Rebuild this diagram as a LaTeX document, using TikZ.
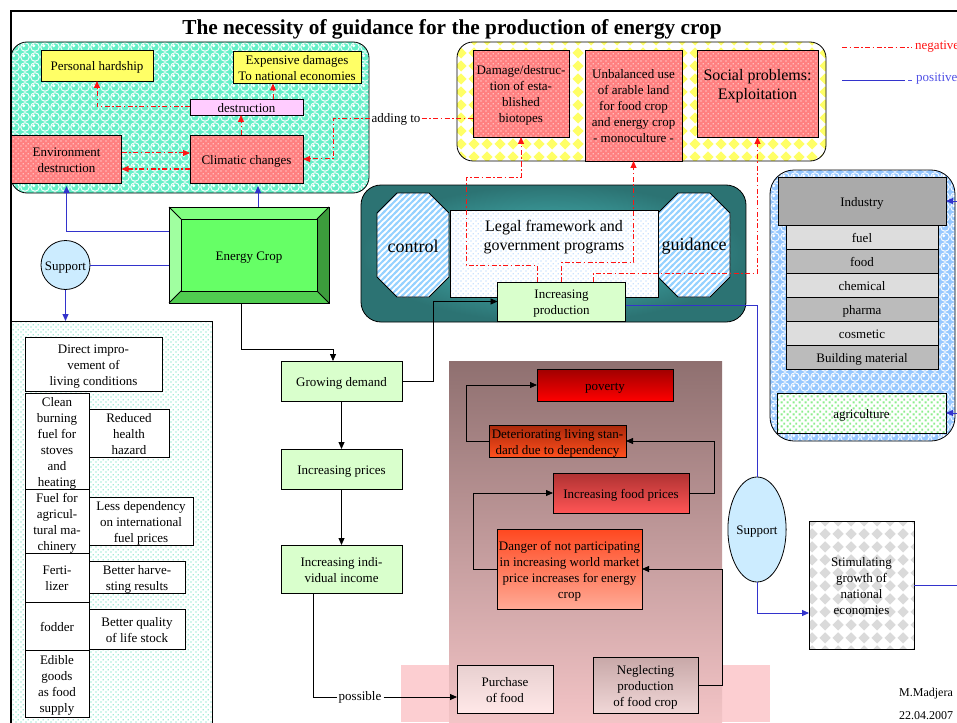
\documentclass[tikz,border=0pt]{standalone}
\usepackage{fontspec}
\setmainfont{Liberation Serif}
\usetikzlibrary{arrows.meta,patterns,shapes.geometric}
\newcommand\lw[1]{\raisebox{-2pt}[\height][\depth]{\begin{tabular}{@{}c@{}}#1\end{tabular}}}
\definecolor{negred}{RGB}{255,20,20}
\definecolor{posblue}{RGB}{51,51,204}
\definecolor{posblue2}{RGB}{80,80,230}
\definecolor{aqua}{RGB}{100,240,200}
\definecolor{aquadot}{RGB}{70,220,175}
\definecolor{yel}{RGB}{255,255,102}
\definecolor{lav}{RGB}{255,204,255}
\definecolor{salmon}{RGB}{255,128,128}
\definecolor{ltgreen}{RGB}{217,255,204}
\definecolor{ltblue}{RGB}{204,236,255}
\definecolor{dotblue}{RGB}{150,200,255}
\definecolor{stripeblue}{RGB}{150,210,255}
\definecolor{rblue}{RGB}{150,200,255}
\definecolor{tealin}{RGB}{75,195,195}
\definecolor{tealout}{RGB}{44,115,115}
\definecolor{brtop}{RGB}{143,112,112}
\definecolor{brbot}{RGB}{243,196,198}
\definecolor{pinkstrip}{RGB}{252,206,209}
\definecolor{gray1}{RGB}{170,170,170}
\definecolor{glight}{RGB}{221,221,221}
\definecolor{gdark}{RGB}{187,187,187}
\definecolor{agrgreen}{RGB}{140,238,140}
\definecolor{diagray}{RGB}{218,218,218}
\newcommand\fsn{\fontsize{13}{16}\selectfont}
\newcommand\fssm{\fontsize{12}{14}\selectfont}
\newcommand\fsbig{\fontsize{16}{19.5}\selectfont}
\newcommand\fsctl{\fontsize{18}{21}\selectfont}
\newcommand\fstitle{\fontsize{21.3}{25}\selectfont\bfseries}
\pgfdeclarepatternformonly{mydots}{\pgfpointorigin}{\pgfpoint{5pt}{5pt}}{\pgfpoint{5pt}{5pt}}{%
  \pgfpathcircle{\pgfpoint{1.25pt}{1.25pt}}{0.75pt}%
  \pgfpathcircle{\pgfpoint{3.75pt}{3.75pt}}{0.75pt}%
  \pgfusepath{fill}}
\pgfdeclarepatternformonly{mybubbles}{\pgfpoint{-1pt}{-1pt}}{\pgfpoint{11pt}{11pt}}{\pgfpoint{10pt}{10pt}}{%
  \pgfsetlinewidth{0.9pt}%
  \pgfpathcircle{\pgfpoint{5pt}{5pt}}{4.3pt}\pgfusepath{stroke}%
  \pgfpathcircle{\pgfpoint{3.8pt}{6.2pt}}{1.6pt}\pgfusepath{fill}}
\pgfdeclarepatternformonly{mydiamonds}{\pgfpointorigin}{\pgfpoint{13pt}{13pt}}{\pgfpoint{13pt}{13pt}}{%
  \pgfpathmoveto{\pgfpoint{6.5pt}{0.5pt}}\pgfpathlineto{\pgfpoint{12.5pt}{6.5pt}}%
  \pgfpathlineto{\pgfpoint{6.5pt}{12.5pt}}\pgfpathlineto{\pgfpoint{0.5pt}{6.5pt}}\pgfpathclose
  \pgfusepath{fill}}
\pgfdeclarepatternformonly{mysquares}{\pgfpointorigin}{\pgfpoint{6pt}{6pt}}{\pgfpoint{6pt}{6pt}}{%
  \pgfpathrectangle{\pgfpoint{0.8pt}{0.8pt}}{\pgfpoint{2.2pt}{2.2pt}}%
  \pgfpathrectangle{\pgfpoint{3.8pt}{3.8pt}}{\pgfpoint{2.2pt}{2.2pt}}%
  \pgfusepath{fill}}
\pgfdeclarepatternformonly{mystripes}{\pgfpoint{-1pt}{-1pt}}{\pgfpoint{7pt}{7pt}}{\pgfpoint{6pt}{6pt}}{%
  \pgfsetlinewidth{2pt}\pgfsetrectcap
  \pgfpathmoveto{\pgfpoint{0pt}{0pt}}\pgfpathlineto{\pgfpoint{6pt}{6pt}}%
  \pgfpathmoveto{\pgfpoint{-1pt}{5pt}}\pgfpathlineto{\pgfpoint{1pt}{7pt}}%
  \pgfpathmoveto{\pgfpoint{5pt}{-1pt}}\pgfpathlineto{\pgfpoint{7pt}{1pt}}%
  \pgfusepath{stroke}}
\begin{document}
\begin{tikzpicture}[x=1pt,y=-1pt,
  box/.style={draw=black, line width=0.8pt, inner sep=0pt, outer sep=0pt, font=\fsn},
  salmonbox/.style={box, preaction={fill=salmon}, pattern=mydots, pattern color=white},
  greenbox/.style={box, fill=ltgreen},
  whitebox/.style={box, fill=white},
  flowarr/.style={draw=black, line width=0.8pt, -{Triangle[length=7pt,width=6pt]}},
  flowln/.style={draw=black, line width=0.8pt},
  negarr/.style={draw=negred, line width=1pt, dash pattern=on 5pt off 2.5pt on 1.5pt off 2.5pt, -{Triangle[length=7pt,width=6pt]}},
  negln/.style={draw=negred, line width=1pt, dash pattern=on 5pt off 2.5pt on 1.5pt off 2.5pt},
  posarr/.style={draw=posblue, line width=0.9pt, -{Triangle[length=7pt,width=6pt]}},
  posln/.style={draw=posblue, line width=0.9pt},
  txt/.style={font=\fsn, inner sep=1pt},
  octo/.style={draw=black, line width=0.8pt, preaction={fill=white}, pattern=mystripes, pattern color=stripeblue},
  bevel/.style={draw=black, line width=0.8pt}
]
\useasboundingbox (0,0) rectangle (957,722);
\fill[white] (0,0) rectangle (957,722);

% ---------- title ----------
\node[font=\fstitle] (title) at (452,29) {The necessity of guidance for the production of energy crop};

% ---------- top-left region ----------
\node[box, rounded corners=16pt, minimum width=358pt, minimum height=151pt,
      preaction={fill=aqua}, pattern=mybubbles, pattern color=white] (tlr) at (190,117.5) {};
\node[box, fill=yel, minimum width=112pt, minimum height=31pt] (ph) at (97,65.5) {\lw{Personal hardship}};
\node[box, fill=yel, minimum width=128pt, minimum height=31pt] (ed) at (297,67.5) {\lw{Expensive damages\\To national economies}};
\node[box, fill=lav, minimum width=113pt, minimum height=16pt] (dest) at (246.5,107) {\lw{destruction}};
\node[salmonbox, minimum width=110pt, minimum height=48pt] (env) at (66.5,159) {\lw{Environment\\destruction}};
\node[salmonbox, minimum width=113pt, minimum height=48pt] (clim) at (246.5,159) {\lw{Climatic changes}};

\draw[negarr] (dest.west) -| (ph.south);
\draw[negarr] ([xshift=26.5pt]dest.north) -- ([xshift=26.5pt]dest.north |- ed.south);
\draw[negarr] ([xshift=-5.5pt]clim.north) -- ([xshift=-5.5pt]dest.south);
\draw[negarr] ([yshift=6pt]env.east) -- ([yshift=6pt]clim.west);
\draw[negarr] ([yshift=-10pt]clim.west) -- ([yshift=-10pt]env.east);

% ---------- top-middle yellow region ----------
\node[box, rounded corners=16pt, minimum width=369pt, minimum height=119pt,
      preaction={fill=white}, pattern=mydiamonds, pattern color=yel] (yr) at (641.5,101.5) {};
\node[salmonbox, minimum width=96pt, minimum height=87pt] (dmg) at (521,93.5) {\lw{Damage/destruc-\\tion of esta-\\blished\\biotopes}};
\node[salmonbox, minimum width=97pt, minimum height=111pt] (unb) at (633.5,105.5) {\lw{Unbalanced use\\of arable land\\for food crop\\and energy crop\\- monoculture -}};
\node[salmonbox, minimum width=121pt, minimum height=87pt] (soc) at (757.5,93.5) {};
\node[font=\fsbig, align=center, inner sep=0pt] (soct) at (757.5,86) {Social problems:\\Exploitation};

% adding to
\node[txt] (add) at (396,119) {adding to};
\draw[negln] (add.east) -- (add.east -| dmg.west);
\draw[negarr] (add.west) -| (333,159) -- (clim.east);

% ---------- legend ----------
\coordinate (ln1a) at (842,48);
\coordinate (ln1b) at (912,48);
\coordinate (ln2a) at (842,80);
\coordinate (ln2b) at (905,80);
\coordinate (ln2c) at (908,80);
\coordinate (ln2d) at (912,80);
\draw[negln] (ln1a) -- (ln1b);
\node[anchor=west, font=\fsn, text=negred, inner sep=0pt] (legneg) at (915,47) {negative};
\draw[posln] (ln2a) -- (ln2b);
\draw[posln, posblue2] (ln2c) -- (ln2d);
\node[anchor=west, font=\fsn, text=posblue2, inner sep=0pt] (legpos) at (916,79) {positive};

% ---------- energy crop ----------
\fill[fill={rgb,255:red,128;green,255;blue,128}] (169,207) -- (329,207) -- (317,219) -- (181,219) -- cycle;
\fill[fill={rgb,255:red,160;green,255;blue,160}] (169,207) -- (181,219) -- (181,291) -- (169,303) -- cycle;
\fill[fill={rgb,255:red,60;green,156;blue,60}] (329,207) -- (329,303) -- (317,291) -- (317,219) -- cycle;
\fill[fill={rgb,255:red,80;green,204;blue,80}] (169,303) -- (329,303) -- (317,291) -- (181,291) -- cycle;
\fill[fill={rgb,255:red,102;green,255;blue,102}] (181,219) rectangle (317,291);
\draw[bevel] (169,207) rectangle (329,303);
\draw[bevel] (181,219) rectangle (317,291);
\draw[bevel] (169,207) -- (181,219) (329,207) -- (317,219) (169,303) -- (181,291) (329,303) -- (317,291);
\node[box, draw=none, minimum width=160pt, minimum height=96pt] (energy) at (249,255) {\lw{Energy Crop}};

\node[box, circle, fill=ltblue, minimum size=49pt] (sup) at (65.5,265) {\lw{Support}};

\draw[posarr] ([xshift=9pt]energy.north) -- ([xshift=9pt,yshift=-3pt]energy.north |- clim.south);
\draw[posarr] ([yshift=24pt]energy.west) -| ([yshift=-3pt]env.south);
\draw[posln] (sup.east) -- (sup.east -| energy.west);

% ---------- lower-left region ----------
\node[box, anchor=north west, minimum width=201pt, minimum height=410pt,
      preaction={fill=white}, pattern=mydots, pattern color=aquadot] (llr) at (11,321) {};
\draw[posarr] (sup.south) -- (sup.south |- llr.north);

\node[whitebox, minimum width=137pt, minimum height=54pt] (dil) at (93.5,364) {\lw{Direct impro-\\vement of\\living conditions}};
\node[whitebox, minimum width=64pt, minimum height=96pt] (c1) at (57,441) {\lw{Clean\\burning\\fuel for\\stoves\\and\\heating}};
\node[whitebox, minimum width=64pt, minimum height=64pt] (c2) at (57,521) {\lw{Fuel for\\agricul-\\tural ma-\\chinery}};
\node[whitebox, minimum width=64pt, minimum height=49pt] (c3) at (57,577.5) {\lw{Ferti-\\lizer}};
\node[whitebox, minimum width=64pt, minimum height=48pt] (c4) at (57,626) {\lw{fodder}};
\node[whitebox, minimum width=64pt, minimum height=67pt] (c5) at (57,683.5) {\lw{Edible\\goods\\as food\\supply}};
\node[whitebox, minimum width=80pt, minimum height=48pt] (r1) at (129,433) {\lw{Reduced\\health\\hazard}};
\node[whitebox, minimum width=104pt, minimum height=48pt] (r2) at (141,521) {\lw{Less dependency\\on international\\fuel prices}};
\node[whitebox, minimum width=96pt, minimum height=32pt] (r3) at (137,577) {\lw{Better harve-\\sting results}};
\node[whitebox, minimum width=96pt, minimum height=40pt] (r4) at (137,629) {\lw{Better quality\\of life stock}};

% ---------- brown region ----------
\fill[pinkstrip] (401,665) rectangle (770,722);
\shade[top color=brtop, bottom color=brbot] (449,361) rectangle (722,722);

\node[box, top color={rgb,255:red,160;green,0;blue,0}, bottom color={rgb,255:red,255;green,0;blue,0}, minimum width=136pt, minimum height=32pt] (pov) at (605,385) {\lw{poverty}};
\node[box, top color={rgb,255:red,170;green,40;blue,10}, bottom color={rgb,255:red,255;green,80;blue,30}, minimum width=137pt, minimum height=32pt] (det) at (557.5,441) {\lw{Deteriorating living stan-\\dard due to dependency}};
\node[box, top color={rgb,255:red,175;green,50;blue,50}, bottom color={rgb,255:red,255;green,85;blue,85}, minimum width=136pt, minimum height=40pt] (ifp) at (621,493) {\lw{Increasing food prices}};
\node[box, top color={rgb,255:red,255;green,72;blue,32}, bottom color={rgb,255:red,255;green,170;blue,150}, minimum width=145pt, minimum height=80pt] (dan) at (569.5,569) {\lw{Danger of not participating\\in increasing world market\\price increases for energy\\crop}};
\node[box, top color={rgb,255:red,232;green,208;blue,208}, bottom color={rgb,255:red,255;green,232;blue,232}, minimum width=96pt, minimum height=48pt] (purch) at (505,689) {\lw{Purchase\\of food}};
\node[box, top color={rgb,255:red,200;green,168;blue,168}, bottom color={rgb,255:red,240;green,215;blue,215}, minimum width=105pt, minimum height=56pt] (negl) at (645.5,685) {\lw{Neglecting\\production\\of food crop}};

\draw[flowarr] (det.west) -- (466,441) |- (pov.west);
\draw[flowarr] (ifp.east) -- (714,493) |- (det.east);
\draw[flowarr] (dan.west) -- (473,569) |- (ifp.west);
\draw[flowarr] (negl.east) -- (722,685) |- (dan.east);

% ---------- middle flow ----------
\node[greenbox, minimum width=121pt, minimum height=40pt] (gd) at (341.5,381) {\lw{Growing demand}};
\node[greenbox, minimum width=121pt, minimum height=40pt] (ip) at (341.5,469) {\lw{Increasing prices}};
\node[greenbox, minimum width=121pt, minimum height=48pt] (ii) at (341.5,569) {\lw{Increasing indi-\\vidual income}};
\node[txt, inner sep=2pt] (poss) at (360,697) {possible};

\draw[flowarr] ([xshift=-8pt]energy.south) -- ++(0,46) -| ([xshift=-8.5pt]gd.north);
\draw[flowarr] (gd) -- (ip);
\draw[flowarr] (ip) -- (ii);
\draw[flowln] ([xshift=-28.5pt]ii.south) |- (poss.west);
\draw[flowarr] (poss.east) -- (poss.east -| purch.west);

% ---------- teal region ----------
\node[box, rounded corners=20pt, minimum width=385pt, minimum height=137pt,
      inner color=tealin, outer color=tealout] (tr) at (553.5,253.5) {};
\path[octo] (397,193) -- (429,193) -- (449,213) -- (449,277) -- (429,297) -- (397,297) -- (377,277) -- (377,213) -- cycle;
\path[octo] (678,193) -- (710,193) -- (730,213) -- (730,277) -- (710,297) -- (678,297) -- (658,277) -- (658,213) -- cycle;
\node[font=\fsctl, inner sep=0pt] (ctl) at (413,246) {control};
\node[font=\fsctl, inner sep=0pt] (gui) at (694,246) {guidance};
\node[box, minimum width=208pt, minimum height=87pt, preaction={fill=white}, pattern=mydots, pattern color=dotblue] (legal) at (554,253.5) {};
\node[font=\fsbig, align=center, inner sep=0pt] (legalt) at (554,237) {Legal framework and\\government programs};
\node[greenbox, minimum width=128pt, minimum height=39pt] (prod) at (561.5,301.5) {\lw{Increasing\\production}};

\draw[flowarr] (gd.east) -- (433,381) |- (prod.west);

\draw[negarr] ([xshift=-24.5pt]prod.north) |- (466,265) |- (521,177) -- (dmg.south);
\draw[negarr] (prod.north) |- (633.5,262) -- (unb.south);
\draw[negarr] ([xshift=31.5pt]prod.north) |- (757.5,273) -- (soc.south);

% ---------- right region ----------
\node[box, rounded corners=24pt, minimum width=185pt, minimum height=271pt,
      preaction={fill=rblue}, pattern=mybubbles, pattern color=white] (rr) at (862.5,305.5) {};
\node[box, fill=gray1, minimum width=168pt, minimum height=48pt] (ind) at (862,201) {\lw{Industry}};
\node[box, fill=glight, minimum width=152pt, minimum height=24pt] (fuel) at (862,237) {\lw{fuel}};
\node[box, fill=gdark, minimum width=152pt, minimum height=24pt] (food) at (862,261) {\lw{food}};
\node[box, fill=glight, minimum width=152pt, minimum height=24pt] (chem) at (862,285) {\lw{chemical}};
\node[box, fill=gdark, minimum width=152pt, minimum height=24pt] (pharma) at (862,309) {\lw{pharma}};
\node[box, fill=glight, minimum width=152pt, minimum height=24pt] (cosm) at (862,333) {\lw{cosmetic}};
\node[box, fill=gdark, minimum width=152pt, minimum height=24pt] (build) at (862,357) {\lw{Building material}};
\node[box, minimum width=169pt, minimum height=40pt, preaction={fill=white}, pattern=mysquares, pattern color=agrgreen] (agr) at (861.5,413) {\lw{agriculture}};

\coordinate (edgeI) at (960,201);
\coordinate (edgeA) at (960,413);
\draw[posarr] (edgeI) -- (ind.east);
\draw[posarr] (edgeA) -- (agr.east);

% ---------- right support ----------
\node[box, ellipse, fill=ltblue, minimum width=56pt, minimum height=105pt] (sup2) at (757,529.5) {\lw{Support}};
\node[box, minimum width=105pt, minimum height=128pt, preaction={fill=white}, pattern=mydiamonds, pattern color=diagray] (stim) at (861.5,585) {\lw{Stimulating\\growth of\\national\\economies}};
\coordinate (edgeS) at (960,585);

\draw[posln] ([yshift=-4pt]prod.east) -| (sup2.north);
\draw[posarr] (sup2.south) |- ([yshift=-28pt]stim.west);
\draw[posln] (stim.east) -- (edgeS);

% ---------- footer ----------
\node[anchor=west, font=\fssm, inner sep=0pt] (auth) at (899,694) {M.Madjera};
\node[anchor=west, font=\fssm, inner sep=0pt] (date) at (899,716) {22.04.2007};

% ---------- frame ----------
\draw[line width=2pt] (11,725) -- (11,11) -- (960,11);
\end{tikzpicture}
\end{document}
